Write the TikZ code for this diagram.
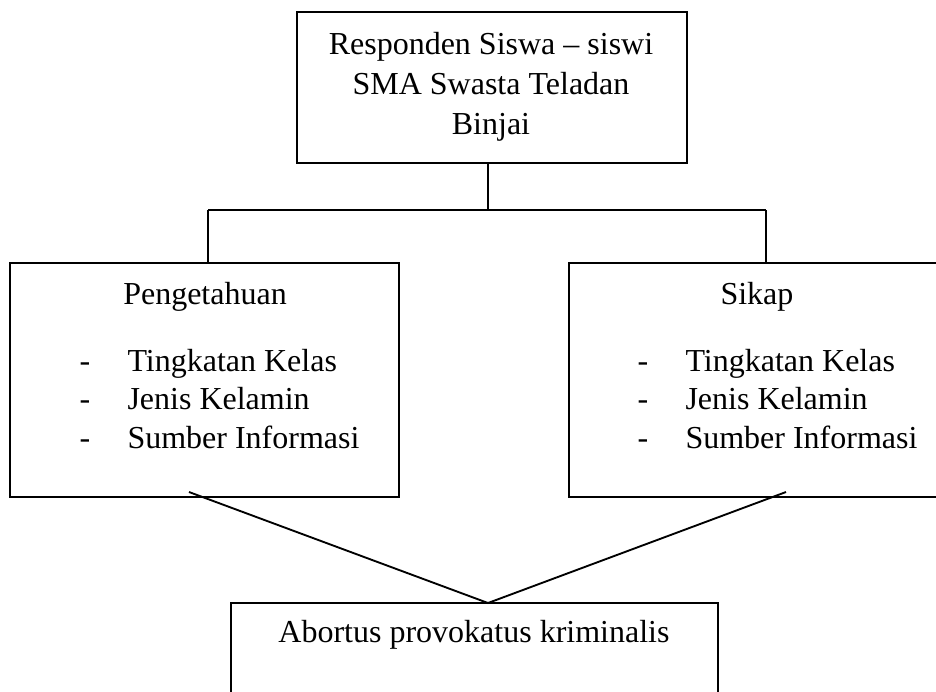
\documentclass[tikz,border=0pt]{standalone}
\usepackage{fontspec}
\setmainfont{Liberation Serif}
\usepackage{xcolor}
\usetikzlibrary{positioning}
\definecolor{kbline}{RGB}{0,0,0}
\definecolor{kbtext}{RGB}{0,0,0}
\newlength{\dashw}
\setlength{\dashw}{18pt}
\newcommand{\itm}[1]{\makebox[\dashw][l]{-}#1}
\tikzset{
    kbox/.style={draw=kbline, line width=0.9pt, inner sep=0pt, outer sep=0pt},
    klink/.style={draw=kbline, line width=0.7pt},
    ktext/.style={text=kbtext, inner sep=0pt, font=\fontsize{12}{15}\selectfont},
    klist/.style={text=kbtext, inner sep=0pt, align=left, font=\fontsize{12}{14.4}\selectfont}
}

\begin{document}
\begin{tikzpicture}[x=0.375pt,y=-0.375pt]
    \useasboundingbox (0,0) rectangle (936,691);
    \clip (0,0) rectangle (936,691);
    % boxes
    \node[kbox, minimum width=146.25pt, minimum height=56.625pt] (resp) at (492,87.5) {};
    \node[kbox, minimum width=145.875pt, minimum height=87.75pt] (tahu) at (204.5,380) {};
    \node[kbox, minimum width=141pt, minimum height=87.75pt] (sikap) at (757,380) {};
    \node[kbox, minimum width=182.625pt, minimum height=36.375pt] (abort) at (474.5,651.5) {};
    % texts (base anchor = last line)
    \node[ktext, align=center, anchor=base] (resptxt) at (491,134)
        {Responden Siswa – siswi\\SMA Swasta Teladan\\Binjai};
    \node[ktext, anchor=base] (tahutitle) at (205,304) {Pengetahuan};
    \node[klist, anchor=base west] (tahulist) at (79,448)
        {\itm{Tingkatan Kelas}\\\itm{Jenis Kelamin}\\\itm{Sumber Informasi}};
    \node[ktext, anchor=base] (sikaptitle) at (757,304) {Sikap};
    \node[klist, anchor=base west] (sikaplist) at (637,448)
        {\itm{Tingkatan Kelas}\\\itm{Jenis Kelamin}\\\itm{Sumber Informasi}};
    \node[ktext, anchor=base] (aborttxt) at (474,642) {Abortus provokatus kriminalis};
    % connectors
    \coordinate (split) at (488,210);
    \coordinate (splitL) at (208,210);
    \coordinate (splitR) at (766,210);
    \coordinate (fromL) at (189,492);
    \coordinate (fromR) at (786,492);
    \coordinate (meet) at (488,603);
    \draw[klink] (split |- resp.south) -- (split);
    \draw[klink] (splitL) -- (splitR);
    \draw[klink] (splitL) -- (splitL |- tahu.north);
    \draw[klink] (splitR) -- (splitR |- sikap.north);
    \draw[klink] (fromL) -- (meet) -- (fromR);
\end{tikzpicture}
\end{document}
